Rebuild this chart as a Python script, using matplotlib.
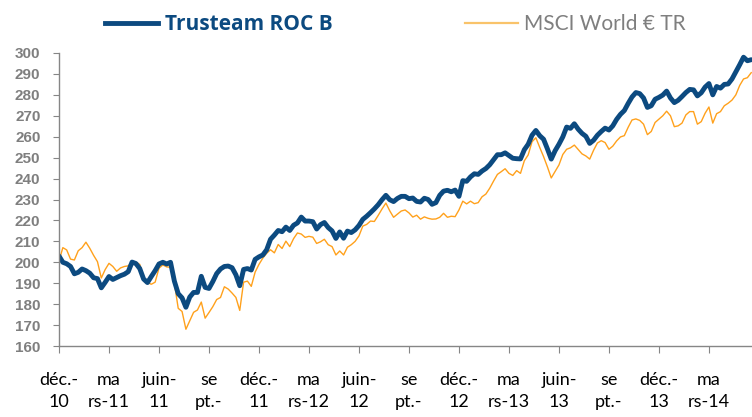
import matplotlib
matplotlib.use("Agg")
import matplotlib.pyplot as plt
import matplotlib.lines as mlines
import numpy as np

# weekly values, dec 2010 -> june 2014
trusteam = [
    203, 200, 199.3, 198, 194.5, 195.2, 196.8, 196, 194.8, 192.6,
    192.2, 187.8, 190.4, 193.2, 191.8, 192.7, 193.6, 194.3, 195.5, 200.1,
    199.4, 197, 192, 190.3, 193.2, 196, 199.2, 200, 199.2, 200,
    191, 185, 183, 178.5, 183.4, 185.6, 185.6, 193.3, 188, 187.5,
    190.8, 194.6, 196.8, 198, 198.2, 197.4, 194, 188.8, 196.6, 197,
    196.3, 201.4, 202.6, 203.5, 206, 211, 213, 215.2, 214.6, 216.8,
    215.2, 217.7, 218.8, 221.6, 219.7, 219.7, 219.4, 215.9, 218, 219,
    216.6, 215, 211.4, 214.5, 211.5, 214.9, 214.2, 215.5, 217.6, 220.5,
    222, 223.7, 225.5, 227.5, 229.9, 232, 229.9, 229, 230.5, 231.5,
    231.5, 230.4, 230.7, 229.1, 228.8, 230.6, 230, 227.7, 228.5, 232,
    234, 234.4, 233.7, 234.5, 231.5, 239, 238.7, 240.8, 242.3, 242,
    243.6, 244.8, 246.6, 249, 251.4, 251.4, 252.3, 251, 249.7, 249.5,
    249.4, 253.8, 256.4, 260.7, 263, 260.5, 258.8, 254.2, 249.3, 253.3,
    256.4, 259.9, 264.6, 264, 266.2, 263.6, 261.6, 260.2, 256.8, 258.3,
    260.7, 262.5, 264.1, 263.2, 265.2, 268.3, 270.7, 272.5, 275.9, 279,
    281.1, 280.6, 278.5, 274, 274.8, 277.9, 278.8, 279.9, 281.8, 278.5,
    276.3, 277.4, 279.2, 281.1, 282.6, 282.4, 279.5, 281, 283.7, 285.4,
    280, 284, 283.2, 285, 285.2, 287.6, 291, 294.4, 298, 296.3,
    296.8,
]

msci = [
    200.6, 207, 205.9, 201.5, 201.1, 205.5, 207, 209.6, 206.7, 203.3,
    200.3, 192.5, 196.5, 199.5, 198, 195.7, 197.3, 198, 198.3, 200.1,
    200, 199, 192.5, 190.4, 189.5, 190.5, 197.2, 198.7, 197.8, 197.6,
    190, 178, 176.5, 168, 172, 176.1, 177.2, 181, 173.3, 176,
    178.8, 182.2, 183.2, 188.3, 187.2, 185.3, 183.2, 177, 190.5, 191,
    188.5, 195.3, 199, 202, 204.3, 206, 204.5, 208.5, 206.6, 210.1,
    207.5, 211.3, 214, 213.5, 211.9, 212.4, 212, 209, 209.8, 211,
    208.4, 207.5, 203.5, 205.4, 203.5, 207.2, 208.4, 210, 212.6, 217.3,
    218.1, 219.7, 219.5, 222.4, 225.5, 228.3, 224.6, 221.5, 223, 224.5,
    225, 223.6, 221.6, 222.5, 220.6, 221.7, 221, 220.6, 220.7, 221.5,
    223.4, 221.5, 222, 221.8, 225, 229.2, 227.9, 229.2, 228, 228.5,
    231.3, 232.6, 235.4, 238.8, 242, 243.3, 244.7, 242.5, 241.5, 243.8,
    242.5, 248.5, 251.3, 257.6, 259.5, 254.9, 250.5, 245.6, 240.3, 243.4,
    246.5, 251.5, 254, 254.7, 256, 253.9, 251.8, 250.8, 249.3, 253.5,
    257, 258.1, 257.2, 254, 255.5, 258, 259.9, 260.5, 264.5, 268,
    268.5, 267.8, 266, 261, 262.5, 266.8, 268.4, 270, 272.2, 270,
    264.8, 265.2, 266.5, 270.4, 272, 272, 266, 267.2, 271.2, 274.2,
    266.5, 271, 272, 274.8, 276, 277.5, 280, 284.5, 287.6, 288.2,
    290.6,
]

# wrapped the way the original axis wraps them (the sept. year falls off the bottom)
tick_labels = [
    "déc.-\n10", "ma\nrs-11", "juin-\n11", "se\npt.-", "déc.-\n11",
    "ma\nrs-12", "juin-\n12", "se\npt.-", "déc.-\n12", "ma\nrs-13",
    "juin-\n13", "se\npt.-", "déc.-\n13", "ma\nrs-14",
]

BLUE = "#0c4a80"
ORANGE = "#ffa11c"
GREY = "#868686"

weeks = np.arange(len(trusteam))

fig = plt.figure(figsize=(7.52, 4.17), dpi=100)
ax = fig.add_axes([59 / 752, 71 / 417, 693 / 752, 293 / 417])

ax.plot(weeks, msci, color=ORANGE, lw=1.0, solid_joinstyle="round")
ax.plot(weeks, trusteam, color=BLUE, lw=3.5, solid_joinstyle="round",
        solid_capstyle="round")

ax.set_xlim(0, 180.2)
ax.set_ylim(160, 300)

ax.set_yticks(np.arange(160, 301, 10))
ax.set_yticklabels([str(v) for v in range(160, 301, 10)],
                   fontsize=11, fontweight="bold", color="#7f7f7f",
                   family="Liberation Sans")
ax.set_xticks(np.arange(0, 14) * 13)
ax.set_xticklabels(tick_labels, fontsize=13, family="Lato",
                   linespacing=1.45, va="top")

ax.tick_params(axis="y", length=4, color=GREY, pad=9.4)
ax.tick_params(axis="x", length=5, color=GREY, pad=14)

for s in ["top", "right"]:
    ax.spines[s].set_visible(False)
for s in ["left", "bottom"]:
    ax.spines[s].set_color(GREY)
    ax.spines[s].set_linewidth(1.0)

# legend drawn by hand on top
fig.add_artist(mlines.Line2D([105 / 752, 158 / 752], [394 / 417, 394 / 417],
                             color=BLUE, lw=3.5, transform=fig.transFigure))
fig.text(165 / 752, 393 / 417, "Trusteam ROC B", color=BLUE, fontsize=15,
         fontweight="bold", family="Open Sans", va="center", ha="left")
fig.add_artist(mlines.Line2D([465 / 752, 518 / 752], [394 / 417, 394 / 417],
                             color="#f9c36a", lw=1.6, transform=fig.transFigure))
fig.text(524 / 752, 393 / 417, "MSCI World € TR", color="#7f7f7f", fontsize=15,
         family="Lato", va="center", ha="left")

fig.savefig("out.png", dpi=100)
